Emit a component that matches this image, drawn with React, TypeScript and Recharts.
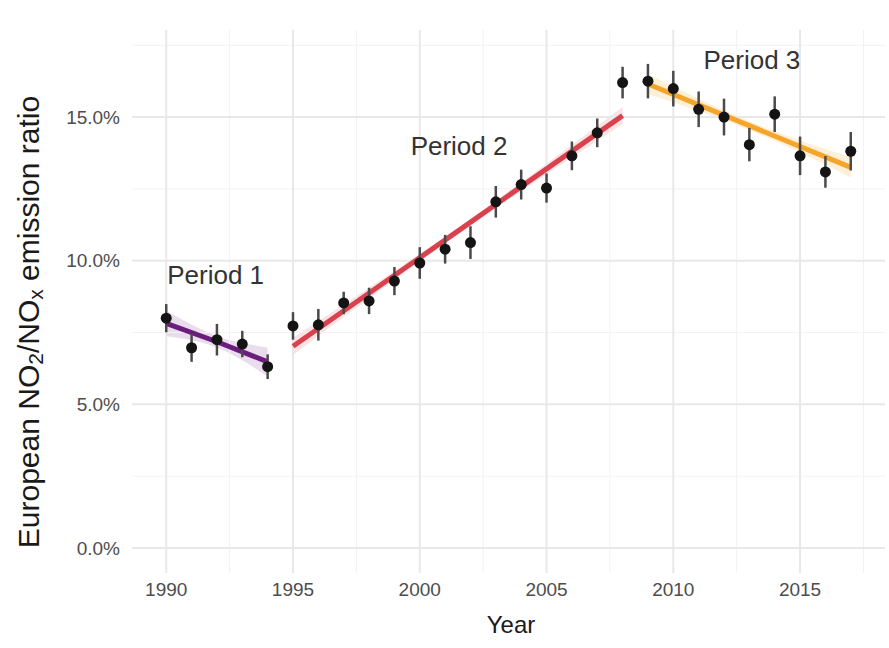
import {
  Area,
  ComposedChart,
  ErrorBar,
  Line,
  ReferenceDot,
  ReferenceLine,
  Scatter,
  XAxis,
  YAxis,
} from "recharts"

const years = [
  1990, 1991, 1992, 1993, 1994, 1995, 1996, 1997, 1998, 1999, 2000, 2001, 2002, 2003,
  2004, 2005, 2006, 2007, 2008, 2009, 2010, 2011, 2012, 2013, 2014, 2015, 2016, 2017,
]
const ratios = [
  8.0, 6.97, 7.25, 7.1, 6.31, 7.73, 7.77, 8.53, 8.6, 9.29, 9.92, 10.4, 10.63, 12.05,
  12.65, 12.53, 13.65, 14.45, 16.2, 16.25, 15.99, 15.27, 15.0, 14.04, 15.1, 13.65, 13.09, 13.81,
]
const errors = [
  0.49, 0.49, 0.55, 0.46, 0.43, 0.48, 0.55, 0.39, 0.46, 0.49, 0.55, 0.5, 0.57, 0.55,
  0.52, 0.51, 0.5, 0.5, 0.55, 0.6, 0.62, 0.62, 0.64, 0.58, 0.62, 0.67, 0.55, 0.67,
]

// fitted trend per period
const p1Years = [1990, 1992, 1994]
const p1Fit = [7.82, 7.18, 6.48]
const p1Low = [7.37, 6.98, 5.98]
const p1High = [8.27, 7.38, 6.98]

const p2Years = [1995, 2001.5, 2008]
const p2Fit = [7.02, 11.03, 15.05]
const p2Low = [6.72, 10.91, 14.75]
const p2High = [7.32, 11.15, 15.35]

const p3Years = [2009, 2013, 2017]
const p3Fit = [16.15, 14.7, 13.25]
const p3Low = [15.8, 14.55, 12.9]
const p3High = [16.5, 14.85, 13.6]

const xTicks = [1990, 1995, 2000, 2005, 2010, 2015]
const xMinor = [1992.5, 1997.5, 2002.5, 2007.5, 2012.5, 2017.5]
const yTicks = [0, 5, 10, 15]
const yMinor = [2.5, 7.5, 12.5, 17.5]

const periodLabels = [
  { name: "Period 1", year: 1991.95, value: 9.5 },
  { name: "Period 2", year: 2001.55, value: 14.0 },
  { name: "Period 3", year: 2013.1, value: 17.0 },
]

const points = years.map((year, i) => ({ year, ratio: ratios[i], err: errors[i] }))

const buildFit = (ys: number[], fit: number[], lo: number[], hi: number[]) =>
  ys.map((year, i) => ({ year, fit: fit[i], band: [lo[i], hi[i]] }))

const period1 = buildFit(p1Years, p1Fit, p1Low, p1High)
const period2 = buildFit(p2Years, p2Fit, p2Low, p2High)
const period3 = buildFit(p3Years, p3Fit, p3Low, p3High)

const FONT = '"Liberation Sans", Arial, sans-serif'
const PURPLE = "#6b1d7f"
const RED = "#d9414e"
const ORANGE = "#f5a529"

const Dot = (props: any) => <circle cx={props.cx} cy={props.cy} r={5.5} fill="#141414" />

const YTitle = () => (
  <text
    x={28}
    y={322}
    transform="rotate(-90 28 322)"
    textAnchor="middle"
    dominantBaseline="central"
    fontSize={30}
    fill="#1a1a1a"
    fontFamily={FONT}
  >
    <tspan>European NO</tspan>
    <tspan dy={7} fontSize={21}>2</tspan>
    <tspan dy={-7}>/NO</tspan>
    <tspan dy={7} fontSize={21}>x</tspan>
    <tspan dy={-7}> emission ratio</tspan>
  </text>
)

const XTitle = () => (
  <text x={511} y={633} textAnchor="middle" fontSize={24} fill="#1a1a1a" fontFamily={FONT}>
    Year
  </text>
)

export default function App() {
  return (
    <div style={{ position: "absolute", left: 0, top: 0, background: "#fff" }}>
      <ComposedChart
        width={889}
        height={648}
        margin={{ top: 30, right: 4, bottom: 35, left: 0 }}
        style={{ fontFamily: FONT }}
      >
        {xMinor.map((x) => (
          <ReferenceLine key={`vx${x}`} x={x} stroke="#f2f2f2" strokeWidth={1} />
        ))}
        {yMinor.map((y) => (
          <ReferenceLine key={`hy${y}`} y={y} stroke="#f2f2f2" strokeWidth={1} />
        ))}
        {xTicks.map((x) => (
          <ReferenceLine key={`mx${x}`} x={x} stroke="#e8e8e8" strokeWidth={2} />
        ))}
        {yTicks.map((y) => (
          <ReferenceLine key={`my${y}`} y={y} stroke="#e8e8e8" strokeWidth={2} />
        ))}
        <XAxis
          dataKey="year"
          type="number"
          domain={[1988.65, 2018.35]}
          ticks={xTicks}
          tickLine={false}
          axisLine={false}
          tickSize={0}
          tickMargin={10}
          height={40}
          tick={{ fill: "#4d4d4d", fontSize: 19 }}
          allowDataOverflow
          label={<XTitle />}
        />
        <YAxis
          type="number"
          domain={[-0.87, 18.03]}
          ticks={yTicks}
          tickFormatter={(v) => `${v.toFixed(1)}%`}
          tickLine={false}
          axisLine={false}
          tickSize={0}
          tickMargin={12}
          width={132}
          tick={{ fill: "#4d4d4d", fontSize: 19 }}
          allowDataOverflow
          label={<YTitle />}
        />
        <Area data={period1} dataKey="band" type="monotone" stroke="none" fill={PURPLE} fillOpacity={0.15} isAnimationActive={false} />
        <Area data={period2} dataKey="band" type="monotone" stroke="none" fill={RED} fillOpacity={0.15} isAnimationActive={false} />
        <Area data={period3} dataKey="band" type="monotone" stroke="none" fill={ORANGE} fillOpacity={0.18} isAnimationActive={false} />
        <Line data={period1} dataKey="fit" stroke={PURPLE} strokeWidth={5} dot={false} isAnimationActive={false} />
        <Line data={period2} dataKey="fit" stroke={RED} strokeWidth={5} dot={false} isAnimationActive={false} />
        <Line data={period3} dataKey="fit" stroke={ORANGE} strokeWidth={5} dot={false} isAnimationActive={false} />
        <Scatter data={points} dataKey="ratio" shape={<Dot />} isAnimationActive={false}>
          <ErrorBar dataKey="err" direction="y" width={0} stroke="#4a4a4a" strokeWidth={2.5} />
        </Scatter>
        {periodLabels.map((p) => (
          <ReferenceDot
            key={p.name}
            x={p.year}
            y={p.value}
            r={0}
            fill="none"
            stroke="none"
            label={{ value: p.name, position: "center", fontSize: 26, fill: "#333333" }}
          />
        ))}
      </ComposedChart>
    </div>
  )
}
